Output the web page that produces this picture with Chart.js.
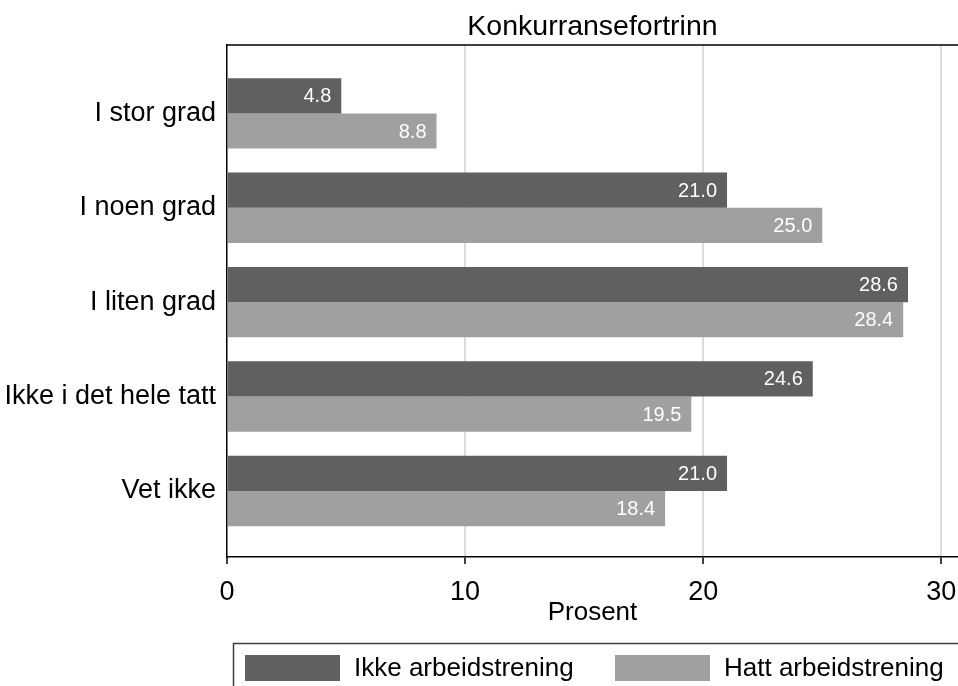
<!DOCTYPE html>
<html>
<head>
<meta charset="utf-8">
<script src="https://cdn.jsdelivr.net/npm/chart.js"></script>
<style>
  html, body { margin: 0; padding: 0; background: #fff; }
  #wrap { width: 958px; height: 686px; }
</style>
</head>
<body>
<div id="wrap"><canvas id="graf"></canvas></div>
<script>
// Data lest av figuren
const kategorier = ['I stor grad', 'I noen grad', 'I liten grad', 'Ikke i det hele tatt', 'Vet ikke'];
const ikkeArbeidstrening = [4.8, 21.0, 28.6, 24.6, 21.0];
const hattArbeidstrening = [8.8, 25.0, 28.4, 19.5, 18.4];
const serieNavn = ['Ikke arbeidstrening', 'Hatt arbeidstrening'];
const xTicks = [0, 10, 20, 30];

const morkGra = '#606060';
const lysGra = '#a0a0a0';
const font = '"Liberation Sans", Arial, sans-serif';

Chart.defaults.font.family = font;
Chart.defaults.color = '#000';

// Ramme øverst i plottet
const rammePlugin = {
  id: 'ramme',
  afterDraw(chart) {
    const { ctx, chartArea } = chart;
    ctx.save();
    ctx.strokeStyle = '#000';
    ctx.lineWidth = 1.5;
    ctx.beginPath();
    ctx.moveTo(chartArea.left, chartArea.top + 0.5);
    ctx.lineTo(chartArea.right, chartArea.top + 0.5);
    ctx.stroke();
    ctx.restore();
  }
};

// Verdier inne i enden av stolpene
const verdiPlugin = {
  id: 'verdier',
  afterDatasetsDraw(chart) {
    const ctx = chart.ctx;
    ctx.save();
    ctx.font = '20px ' + font;
    ctx.fillStyle = '#fff';
    ctx.textAlign = 'right';
    ctx.textBaseline = 'middle';
    chart.data.datasets.forEach((ds, di) => {
      chart.getDatasetMeta(di).data.forEach((bar, i) => {
        ctx.fillText(ds.data[i].x.toFixed(1), bar.x - 10, bar.y + 1);
      });
    });
    ctx.restore();
  }
};

// Forklaring i boks nederst
const forklaringPlugin = {
  id: 'forklaring',
  afterDraw(chart) {
    const ctx = chart.ctx;
    ctx.save();
    ctx.strokeStyle = '#404040';
    ctx.lineWidth = 1.5;
    ctx.strokeRect(233.5, 643.5, 760, 60);
    ctx.font = '26px ' + font;
    ctx.textBaseline = 'middle';
    const farger = [morkGra, lysGra];
    const xs = [245, 615];
    serieNavn.forEach((navn, i) => {
      ctx.fillStyle = farger[i];
      ctx.fillRect(xs[i], 655, 95, 26);
      ctx.fillStyle = '#000';
      ctx.fillText(navn, xs[i] + 109, 669);
    });
    ctx.restore();
  }
};

new Chart(document.getElementById('graf'), {
  type: 'bar',
  data: {
    datasets: [
      {
        label: serieNavn[0],
        data: ikkeArbeidstrening.map((v, i) => ({ x: v, y: i })),
        backgroundColor: morkGra
      },
      {
        label: serieNavn[1],
        data: hattArbeidstrening.map((v, i) => ({ x: v, y: i })),
        backgroundColor: lysGra
      }
    ]
  },
  options: {
    indexAxis: 'y',
    responsive: true,
    maintainAspectRatio: false,
    animation: false,
    categoryPercentage: 0.746,
    barPercentage: 1.0,
    layout: { padding: { left: 0, right: 0, top: 0, bottom: 60 } },
    scales: {
      x: {
        type: 'linear',
        min: 0,
        max: 30.7,
        afterBuildTicks(scale) {
          scale.ticks = xTicks.map(v => ({ value: v }));
        },
        afterFit(scale) {
          scale.height = 69;
          scale.paddingLeft = 0;
          scale.paddingRight = 0;
        },
        ticks: {
          font: { size: 27 },
          color: '#000',
          padding: 12,
          maxRotation: 0
        },
        grid: {
          color: ctx => (ctx.tick && ctx.tick.value === 0 ? 'rgba(0,0,0,0)' : '#dcdcdc'),
          lineWidth: 2,
          tickColor: '#000',
          tickWidth: 1.5,
          tickLength: 7
        },
        border: { display: true, color: '#000', width: 1.5 },
        title: {
          display: true,
          text: 'Prosent',
          font: { size: 26, lineHeight: 1 },
          color: '#000',
          padding: { top: 0, bottom: 0 }
        }
      },
      y: {
        type: 'linear',
        reverse: true,
        offset: false,
        min: -0.73,
        max: 4.70,
        afterFit(scale) {
          scale.width = 227;
          scale.paddingTop = 0;
          scale.paddingBottom = 0;
        },
        ticks: {
          stepSize: 1,
          includeBounds: false,
          font: { size: 27 },
          color: '#000',
          padding: 3,
          callback: v => kategorier[v] ?? ''
        },
        grid: { display: false, offset: false },
        border: { display: true, color: '#000', width: 1.5 }
      }
    },
    plugins: {
      legend: { display: false },
      tooltip: { enabled: false },
      title: {
        display: true,
        text: 'Konkurransefortrinn',
        fullSize: false,
        color: '#000',
        font: { size: 28.5, weight: 'normal', lineHeight: 1 },
        padding: { top: 13, bottom: 3 }
      }
    }
  },
  plugins: [rammePlugin, verdiPlugin, forklaringPlugin]
});
</script>
</body>
</html>
